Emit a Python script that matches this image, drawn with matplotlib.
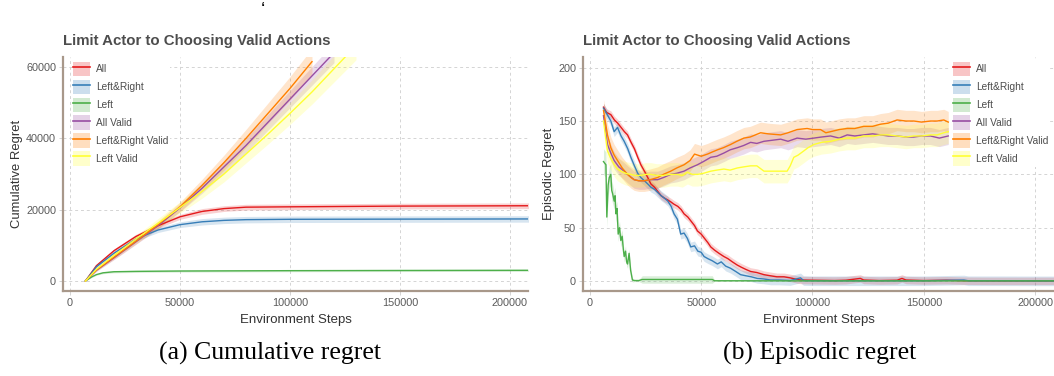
import numpy as np
import matplotlib.pyplot as plt
from matplotlib.lines import Line2D
from matplotlib.patches import Patch
from matplotlib import rcParams

rcParams['font.family'] = ['Liberation Sans', 'DejaVu Sans']

labels = ['All', 'Left&Right', 'Left', 'All Valid', 'Left&Right Valid', 'Left Valid']
colors = ['#E41A1C', '#377EB8', '#4DAF4A', '#984EA3', '#FF7F00', '#FFFF33']

# ---- cumulative regret (a) ----
cum_x_all = [7000, 12000, 20000, 30000, 40000, 50000, 60000, 70000, 80000, 100000, 150000, 210000]
cum_all = [0, 4300, 8500, 12500, 15500, 18000, 19500, 20300, 20700, 20800, 21000, 21100]
cum_all_sd = [0, 300, 500, 600, 700, 700, 800, 800, 800, 800, 800, 800]

cum_x_lr = [7000, 12000, 20000, 30000, 40000, 50000, 60000, 70000, 80000, 100000, 150000, 210000]
cum_lr = [0, 4000, 7800, 11800, 14300, 15800, 16600, 17000, 17200, 17300, 17350, 17400]
cum_lr_sd = [0, 300, 500, 600, 700, 800, 900, 900, 900, 900, 900, 900]

cum_x_l = [7000, 10000, 12000, 15000, 20000, 30000, 50000, 100000, 150000, 210000]
cum_l = [0, 1200, 1800, 2300, 2600, 2700, 2800, 2900, 2950, 3000]
cum_l_sd = [0, 150, 200, 250, 300, 300, 300, 300, 300, 300]

cum_x_av = [7000, 12000, 20000, 30000, 40000, 50000, 60000, 70000, 80000, 90000, 100000, 110000, 120000]
cum_av = [0, 3000, 6500, 11000, 15500, 20500, 26000, 32000, 38000, 44500, 51000, 57500, 64000]
cum_av_sd = [0, 300, 500, 700, 900, 1100, 1400, 1700, 2000, 2200, 2400, 2600, 2800]

cum_x_lrv = [7000, 12000, 20000, 30000, 40000, 50000, 60000, 70000, 80000, 90000, 100000, 110000]
cum_lrv = [0, 3100, 6700, 11200, 15800, 20800, 26800, 33200, 40000, 47000, 54000, 61500]
cum_lrv_sd = [0, 300, 600, 800, 1000, 1300, 1700, 2100, 2500, 2900, 3300, 3700]

cum_x_lv = [7000, 12000, 20000, 30000, 40000, 50000, 60000, 70000, 80000, 90000, 100000, 110000, 120000, 130000]
cum_lv = [0, 3300, 7200, 11800, 16200, 20600, 25100, 30000, 35600, 41200, 47000, 53000, 59500, 66000]
cum_lv_sd = [0, 400, 700, 1000, 1300, 1600, 1900, 2200, 2500, 2800, 3100, 3400, 3700, 4000]

# ---- episodic regret (b) ----
ep_x_all = [6100, 7500, 9400, 11000, 12500, 14000, 15500, 16900, 18500, 20000, 21500, 22900, 24500, 26000,
            27400, 29000, 30500, 32000, 33300, 35000, 36500, 37800, 39500, 41000, 42300, 44000, 45500,
            47000, 48300, 50000, 51500, 53000, 54300, 56000, 58000, 60200, 62000, 64000, 66200, 68000,
            70000, 72200, 75000, 78200, 81000, 84000, 87200, 90000, 93100, 95000, 100000, 110000, 115000,
            121500, 123000, 130000, 138000, 140200, 142000, 150000, 160000, 170000, 180000, 190000, 200000, 210000]
ep_all = [163, 158, 156, 151, 148, 144, 140, 137, 130, 124, 116, 109, 103, 97,
          91, 88, 84, 80, 78, 76, 74, 72, 70, 67, 63, 60, 56,
          52, 47, 44, 40, 36, 32, 29, 26, 23, 21, 18, 15, 13,
          11, 9, 8, 6, 5, 4, 4, 3, 1.5, 1, 0.8, 0.5, 0.8,
          2.5, 1, 0.5, 0.8, 2.5, 1, 0.5, 0.8, 0.3, 0.2, 0.2, 0.2, 0.2]
ep_all_sd = 3.5

ep_x_lr = [6100, 7800, 9400, 10900, 12400, 14000, 15400, 17000, 18400, 20000, 21500, 22900, 24500, 26000,
           27400, 29000, 30500, 32000, 33300, 35000, 36500, 37800, 39300, 40800, 42300, 43800, 45300,
           47000, 48500, 50000, 51300, 53000, 55000, 57300, 59000, 61000, 63200, 65500, 67700, 70000,
           72500, 75200, 78000, 81200, 85000, 90000, 94600, 96000, 100000, 120000, 150000, 168000,
           170000, 185000, 200000, 210000]
ep_lr = [162, 156, 150, 140, 144, 136, 131, 124, 116, 108, 101, 97, 94, 91,
         88, 86, 83, 80, 78, 75, 70, 63, 58, 44, 45, 40, 32,
         33, 28, 27, 23, 21, 19, 16, 18, 14, 12, 9, 6, 5,
         4, 2.5, 2, 1, 1, 0.5, 3, 0.5, 0.3, 0.3, 0.3, 1,
         0.3, 0.3, 0.2, 0.2]
ep_lr_sd = 4.5

ep_x_l = [6100, 7200, 7600, 8200, 8700, 9400, 9800, 10200, 10900, 11300, 11700, 12200, 12700, 13300, 13900,
          14500, 15000, 15400, 16000, 16500, 16900, 17600, 18300, 19100, 20000, 22000, 23500, 55000, 56000,
          100000, 150000, 210000]
ep_l = [112, 109, 60, 90, 97, 100, 85, 82, 75, 80, 63, 68, 44, 50, 38,
        42, 30, 23, 28, 18, 16, 26, 10, 1, 0.5, 0.5, 1.5, 1.5, 0.3,
        0.2, 0.2, 0.2]
ep_l_sd = [12, 12, 10, 10, 10, 10, 9, 9, 8, 8, 8, 7, 7, 6, 6,
           6, 5, 5, 5, 4, 4, 4, 3, 2, 1, 1, 3.5, 3.5, 0.5,
           0.3, 0.3, 0.3]

ep_x_av = [6100, 7900, 9400, 10900, 13000, 15400, 17500, 19900, 22000, 24400, 27000, 30400, 33000, 36300,
           39000, 42300, 45000, 48300, 51000, 54300, 57000, 60200, 63000, 66200, 69000, 72200, 75000, 78200,
           82000, 85700, 89000, 93100, 97000, 100600, 104000, 108100, 112000, 115600, 119000, 123000,
           127000, 130500, 134000, 138000, 142000, 145500, 149000, 153000, 157000, 161000]
ep_av = [155, 128, 120, 113, 107, 103, 99, 95, 94, 94, 95, 95, 97, 100,
         101, 103, 106, 109, 112, 116, 117, 120, 123, 125, 127, 130, 129, 131,
         132, 133, 131, 134, 133, 134, 135, 136, 134, 137, 136, 137,
         138, 137, 136, 136, 135, 135, 136, 136, 134, 136]
ep_av_sd = 8

ep_x_lrv = [6100, 7900, 9400, 10900, 12400, 14500, 16900, 18500, 19900, 22000, 24400, 27000, 30400, 33000,
            36300, 39000, 42300, 45000, 47000, 50000, 52800, 55000, 57300, 60000, 63200, 66000, 69200, 72000,
            76700, 80000, 85700, 89000, 93100, 97600, 100000, 103600, 106000, 108100, 112000, 115600, 119000,
            123000, 127000, 130500, 134000, 138000, 142000, 145500, 149000, 153000, 156000, 159000, 161000]
ep_lrv = [160, 137, 125, 118, 113, 106, 100, 97, 95, 94, 94, 95, 97, 100,
          103, 106, 109, 113, 119, 117, 119, 121, 123, 125, 128, 131, 134, 135,
          139, 138, 137, 139, 142, 143, 142, 142, 139, 140, 142, 143, 143,
          145, 145, 147, 148, 151, 150, 150, 149, 150, 150, 151, 149]
ep_lrv_sd = 10

ep_x_lv = [6100, 7900, 9400, 10900, 12400, 13900, 16000, 18400, 20500, 22900, 25000, 27400, 30000, 33300,
           36000, 39300, 41500, 43800, 46000, 48300, 51000, 54300, 57000, 60200, 63000, 66200, 69000, 72200,
           75000, 78200, 82000, 86000, 88600, 90000, 91600, 93500, 96100, 98000, 100600, 104000, 108100,
           112000, 115600, 119000, 123000, 127000, 130500, 134000, 138000, 142000, 145500, 149000, 153000,
           156000, 159000, 161000]
ep_lv = [150, 122, 115, 109, 105, 103, 101, 100, 99, 99, 100, 100, 99, 99,
         100, 100, 99, 102, 100, 100, 101, 103, 104, 105, 104, 106, 107, 108,
         108, 103, 103, 103, 103, 108, 116, 118, 122, 125, 128, 130, 131,
         133, 134, 134, 136, 136, 137, 137, 136, 135, 136, 136, 137,
         137, 139, 140]
ep_lv_sd = 11


cum_series = [(cum_x_all, cum_all, cum_all_sd), (cum_x_lr, cum_lr, cum_lr_sd), (cum_x_l, cum_l, cum_l_sd),
              (cum_x_av, cum_av, cum_av_sd), (cum_x_lrv, cum_lrv, cum_lrv_sd), (cum_x_lv, cum_lv, cum_lv_sd)]
ep_series = [(ep_x_all, ep_all, ep_all_sd), (ep_x_lr, ep_lr, ep_lr_sd), (ep_x_l, ep_l, ep_l_sd),
             (ep_x_av, ep_av, ep_av_sd), (ep_x_lrv, ep_lrv, ep_lrv_sd), (ep_x_lv, ep_lv, ep_lv_sd)]

SPINE = '#a8988a'
TXT = '#4d4d4d'


def style_axes(ax, ylabel, yticks, ylim, xlim):
    ax.set_xlim(*xlim)
    ax.set_ylim(*ylim)
    ax.set_xticks([0, 50000, 100000, 150000, 200000])
    ax.set_yticks(yticks)
    ax.grid(True, ls=(0, (3, 3)), color='#d4d4d4', lw=0.7)
    ax.set_axisbelow(True)
    for s in ['top', 'right']:
        ax.spines[s].set_visible(False)
    for s in ['left', 'bottom']:
        ax.spines[s].set_color(SPINE)
        ax.spines[s].set_linewidth(1.6)
    ax.tick_params(length=3, width=0.6, color='#cccccc', labelsize=7.8, labelcolor='#5a5a5a', pad=2)
    ax.set_xlabel('Environment Steps', fontsize=9.5, color='#333333', labelpad=4)
    ax.set_ylabel(ylabel, fontsize=9.4, color='#333333', labelpad=2)
    ax.set_title('Limit Actor to Choosing Valid Actions', loc='left', fontsize=10.8,
                 fontweight='bold', color=TXT, pad=9)


def draw(ax, series):
    for (x, y, sd), c in zip(series, colors):
        x = np.array(x, float)
        y = np.array(y, float)
        sd = np.array(sd, float) * np.ones_like(y)
        ax.fill_between(x, y - sd, y + sd, color=c, alpha=0.2, lw=0)
        ax.plot(x, y, color=c, lw=1.0)


def legend(ax, **kw):
    handles = [(Patch(facecolor=c, alpha=0.25, edgecolor='none'), Line2D([], [], color=c, lw=1.2))
               for c in colors]
    lg = ax.legend(handles, labels, frameon=True, fontsize=7.3, handlelength=1.7, handleheight=1.8,
                   labelspacing=0.35, handletextpad=0.6, borderpad=0.15, borderaxespad=0.2, **kw)
    lg.get_frame().set_edgecolor('none')
    lg.get_frame().set_facecolor('white')
    lg.get_frame().set_alpha(1)
    for t in lg.get_texts():
        t.set_color(TXT)


fig = plt.figure(figsize=(10.54, 3.76), dpi=100)
ax1 = fig.add_axes([63 / 1054, 1 - 291 / 376, 465 / 1054, 234 / 376])
ax2 = fig.add_axes([583 / 1054, 1 - 291 / 376, 471 / 1054, 234 / 376])

draw(ax1, cum_series)
style_axes(ax1, 'Cumulative Regret', [0, 20000, 40000, 60000], (-2800, 62800), (-3200, 208200))
legend(ax1, loc='upper left', bbox_to_anchor=(0.014, 0.995))

draw(ax2, ep_series)
style_axes(ax2, 'Episodic Regret', [0, 50, 100, 150, 200], (-9.3, 210), (-3100, 208500))
legend(ax2, loc='upper left', bbox_to_anchor=(0.778, 0.995))

fig.text(263 / 1054, 1 - 11 / 376, '\u2018', fontsize=14, ha='center', va='center')
fig.text(270 / 1054, 1 - 353 / 376, '(a) Cumulative regret', fontsize=18.5, ha='center', va='center',
         family='Liberation Serif')
fig.text(820 / 1054, 1 - 353 / 376, '(b) Episodic regret', fontsize=18.5, ha='center', va='center',
         family='Liberation Serif')

plt.savefig('out.png', dpi=100)
